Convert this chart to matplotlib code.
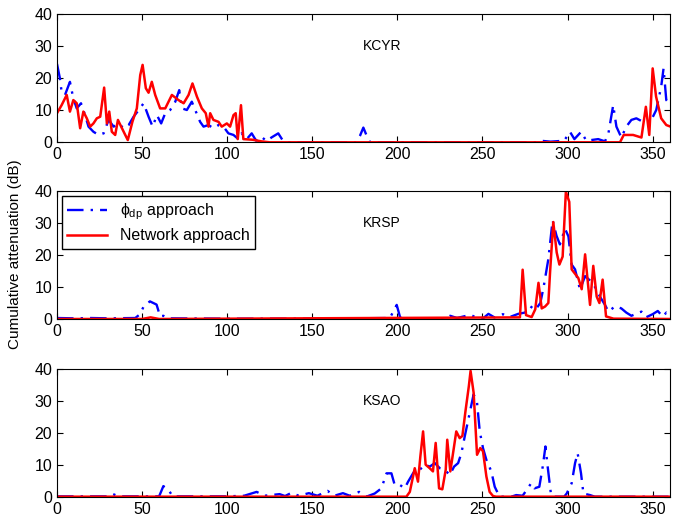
import matplotlib
matplotlib.use('Agg')
import matplotlib.pyplot as plt

plt.rcParams['font.family'] = ['Liberation Sans', 'DejaVu Sans']
plt.rcParams['font.size'] = 11
plt.rcParams['mathtext.fontset'] = 'custom'
plt.rcParams['mathtext.rm'] = 'Liberation Sans'
plt.rcParams['mathtext.it'] = 'Liberation Sans'

# KCYR
kcyr_phi_az = [0, 1.7, 2.7, 4.7, 7.6, 9.6, 11.6, 14.1, 16.5, 18.5, 21.4, 24.4, 27.4, 30.3, 33.3,
               36.2, 39.1, 42.1, 45, 48, 50.9, 53.8, 56.2, 58.7, 61.2, 63.6, 66.5, 69.5, 71.8,
               73.4, 76.3, 79.2, 81.2, 84.1, 86.1, 89, 91.9, 94.9, 97.8, 100.7, 103.7, 106.6,
               108.5, 111.5, 114.4, 117, 120, 123, 126, 130, 133, 136, 176, 178, 180, 182, 184,
               282, 284, 290, 298, 301.4, 304, 308, 311, 318, 322, 324, 326.8, 328.7, 331.6,
               334.5, 337.5, 340.4, 344.3, 348.2, 352.1, 355, 356.4, 358, 360]
kcyr_phi = [24.5, 20, 15.8, 14.8, 18.9, 13.7, 10.6, 12.2, 8.5, 4.9, 3.3, 2.3, 2.8, 7.0, 4.9,
            5.9, 4.4, 5.4, 8.0, 10.1, 12.2, 8.0, 4.9, 8.5, 5.9, 9.1, 10.1, 12.7, 16.3,
            10.6, 10.1, 12.7, 10.1, 6.4, 4.9, 5.4, 4.4, 5.4, 4.9, 2.8, 2.3, 1.0,
            2.8, 1.0, 2.8, 0.5, 1.8, 0.4, 1.5, 2.8, 0.3, 0, 0, 2.0, 4.6, 2.0, 0,
            0, 0.5, 0.2, 0.5, 3.3, 1.0, 3.3, 0.5, 1.0, 0.3, 2.8, 11.6, 4.9, 1.5,
            4.9, 7.0, 7.5, 6.4, 5.9, 10.1, 17.4, 23.1, 13.2, 12]
kcyr_net_az = [0, 2.7, 5.7, 7.6, 9.6, 11.6, 13.6, 15.5, 17.5, 19.5, 21.4, 23.4, 25.4, 27.7,
               29.3, 30.7, 32.2, 34.2, 35.8, 37.7, 40.1, 41.6, 44.3, 46.9, 48.9, 50.3, 52.2,
               53.8, 55.7, 57.7, 60.6, 63.6, 67.5, 71.4, 74.4, 77.3, 79.6, 82.2, 85.1, 87.4,
               89, 90, 91.9, 94.9, 96.8, 99.8, 101.7, 103.7, 105, 106.2, 108.1, 109.5,
               115, 120, 125, 330.8, 333, 338.5, 343.4, 346, 348, 350, 352, 355, 358, 360]
kcyr_net = [9.1, 11.6, 14.8, 9.6, 13.2, 12.2, 4.4, 9.6, 7.5, 4.9, 5.9, 7.5, 8.0, 17.1,
            5.9, 9.6, 3.3, 2.3, 7.0, 4.9, 2.3, 0.7, 6.4, 10.6, 21.0, 24.2, 16.9,
            15.5, 18.9, 14.8, 10.6, 10.6, 14.8, 13.2, 12.2, 14.8, 18.4, 14.3, 10.6, 9.1,
            4.9, 9.1, 7.0, 6.4, 4.9, 5.9, 4.9, 8.5, 9.1, 1.0, 11.6, 1.0,
            0.8, 0.3, 0, 0, 2.3, 2.3, 1.5, 11.1, 2.3, 23.1, 14.3, 7.5, 5.4, 5.0]

# KRSP
krsp_phi_az = [0, 10, 20, 30, 46, 48.8, 51, 54.6, 58.5, 60.6, 62.5, 65, 100, 150, 195.6, 199.6,
               201.6, 204, 228, 231, 235, 243, 246, 250.6, 253.5, 257, 262, 266, 271, 275,
               278, 281, 284, 286, 288.7, 291.2, 293.5, 295.5, 298.5, 300.5, 302.4, 304.4,
               307.3, 310.3, 313.2, 316.1, 319, 322, 324, 328, 331.6, 334.5, 337.5, 343.4,
               346, 350, 353, 356, 358, 360]
krsp_phi = [0.3, 0.2, 0.3, 0.2, 0.3, 1.5, 4.0, 5.5, 4.5, 0.8, 1.0, 0.2, 0.1, 0.1, 0.3, 4.4,
            0.5, 0, 0, 1.0, 0.3, 1.3, 0.5, 0.3, 1.6, 0.5, 1.5, 0.6, 1.6, 2.0,
            4.0, 2.8, 5.0, 10.2, 18.7, 30.8, 26.0, 23.3, 28.2, 25.8, 17.0, 15.5,
            9.2, 13.4, 12.0, 10.0, 7.0, 4.4, 2.3, 4.0, 3.3, 2.0, 1.0, 2.3,
            0.5, 1.5, 2.5, 0.7, 2.0, 1.0]
krsp_net_az = [0, 50, 55, 60, 272, 273.6, 275.6, 278.9, 281, 282.9, 284.8, 286.8, 288.7,
               289.7, 291.6, 293.6, 295.2, 297.1, 299, 301, 302.4, 306.3, 308.3, 310.3,
               313.2, 315.1, 317.1, 318.7, 320.6, 322.6, 327, 360]
krsp_net = [0, 0, 0.5, 0, 0.5, 15.4, 1.2, 0.6, 3.0, 11.3, 3.3, 3.9, 5.0,
            14.5, 30.3, 20.8, 17.0, 19.5, 39.8, 36.6, 15.5, 12.8, 9.3, 20.2,
            4.4, 16.6, 7.0, 5.0, 12.3, 0.8, 0.1, 0]

# KSAO
ksao_phi_az = [0, 30, 33, 36, 60, 62.5, 65.4, 68, 100, 110, 117.3, 122, 130.8, 134, 137.7, 142,
               148, 153, 159, 163, 168, 172, 177.5, 181.8, 186.7, 190.6, 193.6, 196.5,
               198.4, 201.4, 204.3, 206.3, 209.2, 211.2, 213.1, 216.1, 219, 222, 224.9,
               227.8, 230.8, 233.3, 235.7, 237.6, 239.6, 242.5, 244.8, 246.8, 248.4,
               250.3, 252.3, 255.2, 257.2, 260, 267, 269.8, 273.6, 276.6, 278.6, 280.5,
               283.4, 285.4, 287, 288.3, 290.3, 292, 298, 299.5, 302.4, 304.4, 305.9,
               307.9, 309.3, 313.2, 316, 360]
ksao_phi = [0.1, 0.1, 0.8, 0.1, 0.1, 3.3, 2.2, 0.1, 0.1, 0.3, 1.5, 0.3, 0.8, 0.2, 1.2, 0.3,
            1.1, 0.3, 1.8, 0.3, 1.1, 0.3, 1.5, 0, 1.0, 2.6, 7.3, 7.3,
            3.7, 3.7, 2.6, 4.7, 7.3, 8.9, 8.4, 10.0, 9.4, 10.5, 8.9,
            8.4, 6.8, 9.4, 10.5, 13.6, 18.9, 26.2, 32.0, 29.4, 20.4,
            15.2, 11.5, 7.9, 3.1, 0, 0, 0.5, 0.3, 2.6, 4.2, 2.6,
            3.1, 9.4, 15.7, 9.4, 0.5, 0, 0, 1.0, 4.2, 10.5, 13.6,
            7.3, 1.0, 0.5, 0, 0]
ksao_net_az = [0, 205.3, 207.3, 209.2, 210.2, 212.1, 213.5, 215.1, 216.6, 219, 220.9, 222.5,
               224.5, 226.4, 228.4, 229.3, 231.1, 233.3, 234.6, 236.6, 238.2, 240, 242,
               243, 244.8, 246.8, 248.7, 250.3, 252.3, 254.2, 256.2, 258, 360]
ksao_net = [0, 0, 1.5, 6.3, 8.9, 4.7, 12.6, 20.4, 10.0, 8.9, 7.9, 16.8,
            2.6, 2.3, 8.4, 17.8, 7.9, 15.7, 20.4, 18.3, 19.0, 26.7, 34.6,
            39.3, 32.5, 13.1, 15.2, 14.2, 6.3, 1.5, 0.2, 0, 0]

names = ['KCYR', 'KRSP', 'KSAO']
phi_data = [(kcyr_phi_az, kcyr_phi), (krsp_phi_az, krsp_phi), (ksao_phi_az, ksao_phi)]
net_data = [(kcyr_net_az, kcyr_net), (krsp_net_az, krsp_net), (ksao_net_az, ksao_net)]

fig = plt.figure(figsize=(6.77, 5.19), dpi=100)
left, width, height = 0.0842, 0.905, 0.2466
bottoms = [0.7258, 0.3854, 0.0430]

for i in range(3):
    ax = fig.add_axes([left, bottoms[i], width, height])
    ax.plot(*phi_data[i], color='blue', lw=1.7, ls=(0, (7, 3, 1, 3)), label=r'$\phi_{dp}$ approach')
    ax.plot(*net_data[i], color='red', lw=1.8, label='Network approach')
    ax.set_xlim(0, 360)
    ax.set_ylim(0, 40)
    ax.set_xticks(range(0, 351, 50))
    ax.set_yticks(range(0, 41, 10))
    ax.tick_params(direction='in', top=True, right=True, length=4, labelsize=11.5)
    ax.text(180, 30, names[i], fontsize=10, va='center', ha='left')
    if i == 1:
        ax.legend(loc='upper left', fancybox=False, edgecolor='black', framealpha=1,
                  fontsize=11.5, borderaxespad=0.3, handlelength=2.5, borderpad=0.35,
                  labelspacing=0.4)

fig.text(0.022, 0.51, 'Cumulative attenuation (dB)', rotation=90, va='center', ha='center',
         fontsize=11)

fig.savefig('out.png', dpi=100)
